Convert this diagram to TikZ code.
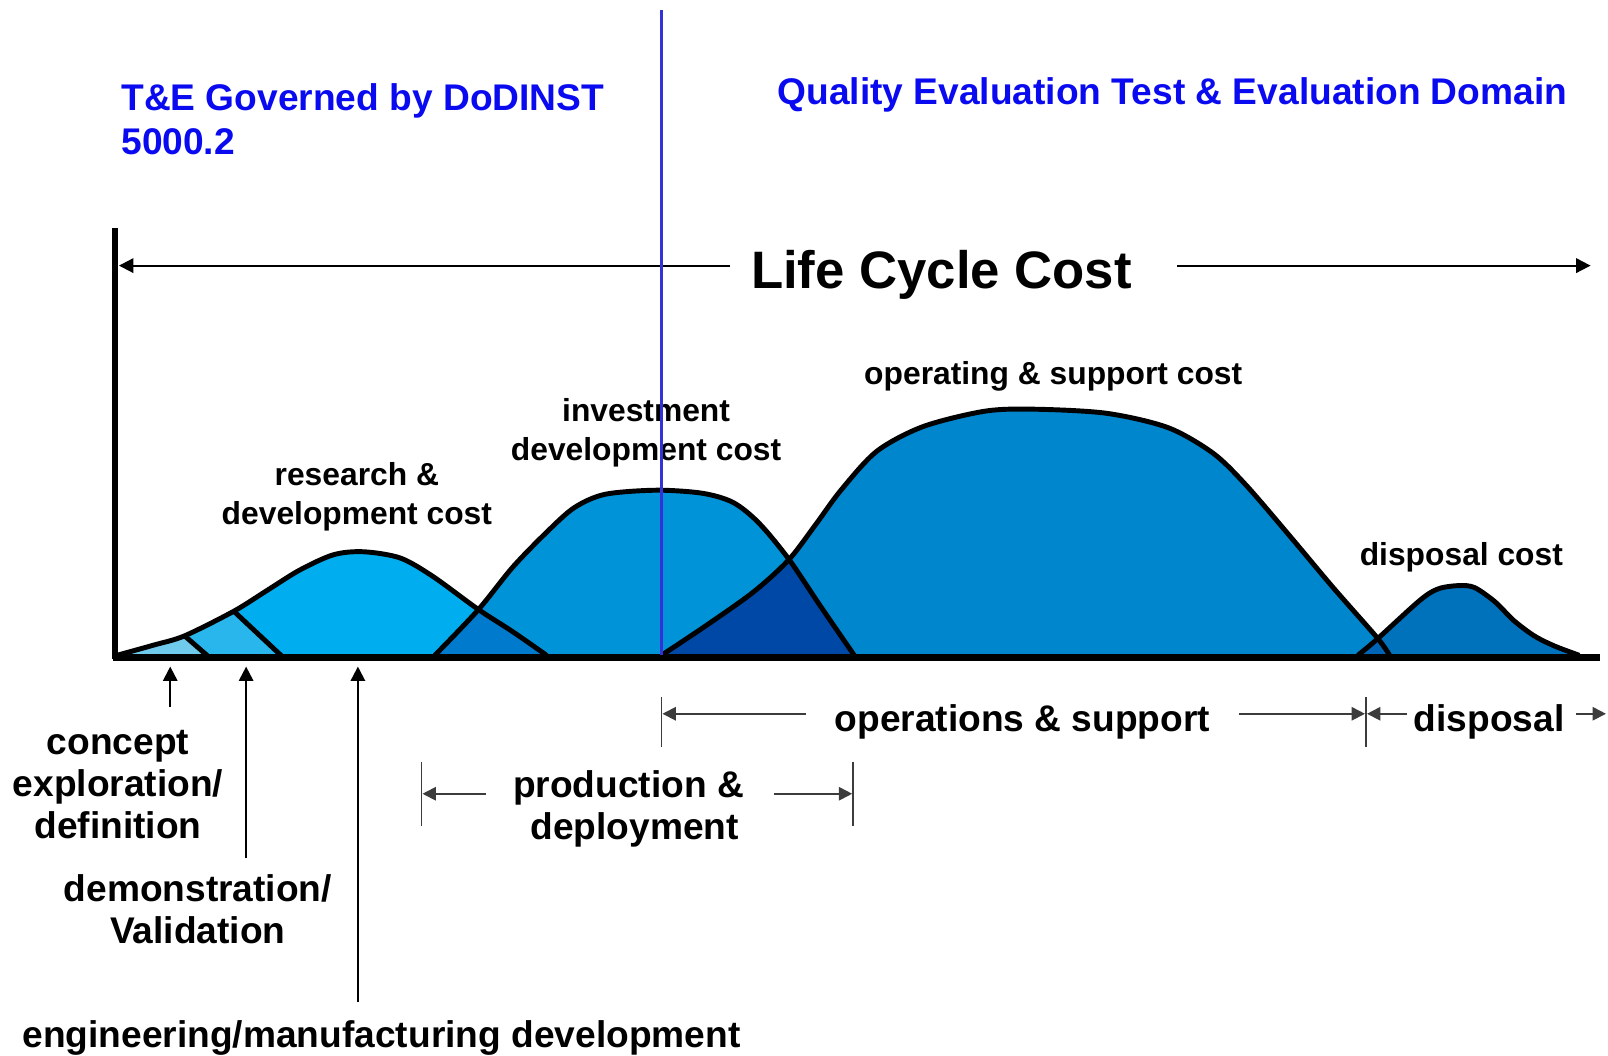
\documentclass[tikz,border=0pt]{standalone}
\usepackage{fontspec}
\setmainfont{Liberation Sans}
\usetikzlibrary{arrows.meta}
\definecolor{conceptc}{RGB}{112,202,236}
\definecolor{democ}{RGB}{40,182,236}
\definecolor{rdc}{RGB}{0,174,239}
\definecolor{rdinvc}{RGB}{0,122,204}
\definecolor{invc}{RGB}{0,147,215}
\definecolor{invosc}{RGB}{0,72,166}
\definecolor{osc}{RGB}{0,134,204}
\definecolor{dispc}{RGB}{0,114,188}
\definecolor{osdispc}{RGB}{0,100,180}
\definecolor{titleblue}{RGB}{10,10,240}
\definecolor{lineblue}{RGB}{50,50,215}
\definecolor{tickgray}{RGB}{60,60,60}
\def\rdpts{(114,639) (150,629) (180,620) (228,596) (260,576) (292,556) (325,541) (354,538) (390,544) (422,562) (466,594) (500,616) (533,639)}
\def\invpts{(424,639) (466,595) (500,553) (533,519) (560,495) (590,482) (640,478) (685,481) (715,490) (740,510) (769,545) (800,591) (833,639)}
\def\ospts{(645,639) (690,609) (735,577) (769,546) (795,512) (820,478) (855,440) (900,416) (960,401) (1008,399) (1079,403) (1139,417) (1183,442) (1215,473) (1258,523) (1300,573) (1343,622) (1355,639)}
\def\disppts{(1324,639) (1342,624) (1385,585) (1403,574) (1423,571) (1438,573) (1458,587) (1476,605) (1496,620) (1516,630) (1540,639)}
\begin{document}
\begin{tikzpicture}[x=0.5pt,y=-0.5pt,
  lbl/.style={font=\fontsize{15.5}{18}\selectfont\bfseries, anchor=base, inner sep=0pt},
  big/.style={font=\fontsize{18.1}{21}\selectfont\bfseries, anchor=base, inner sep=0pt},
  ttl/.style={big, text=titleblue, anchor=base west},
  arr/.style={-{Triangle[length=7pt,width=7pt]}, line width=1pt},
  garr/.style={-{Triangle[length=6.5pt,width=6.5pt]}, line width=0.9pt, draw=tickgray},
  tickbar/.style={draw=tickgray, line width=0.9pt},
  curve/.style={line width=2.4pt, line join=round},
  smth/.style={smooth, tension=0.5}]
\useasboundingbox (0,0) rectangle (1568,1029);
% fills
\fill[rdc] plot[smth] coordinates {\rdpts} -- cycle;
\begin{scope}
  \clip plot[smth] coordinates {\rdpts} -- cycle;
  \fill[conceptc] (100,645) -- (203,645) -- (180,620) -- (157,600) -- (100,600) -- cycle;
  \fill[democ] (203,645) -- (275,645) -- (228,596) -- (210,578) -- (157,600) -- (180,620) -- cycle;
\end{scope}
\fill[invc] plot[smth] coordinates {\invpts} -- cycle;
\fill[osc] plot[smth] coordinates {\ospts} -- cycle;
\fill[dispc] plot[smth] coordinates {\disppts} -- cycle;
\begin{scope}
  \clip plot[smth] coordinates {\rdpts} -- cycle;
  \fill[rdinvc] plot[smth] coordinates {\invpts} -- cycle;
\end{scope}
\begin{scope}
  \clip plot[smth] coordinates {\invpts} -- cycle;
  \fill[invosc] plot[smth] coordinates {\ospts} -- cycle;
\end{scope}
\begin{scope}
  \clip plot[smth] coordinates {\ospts} -- cycle;
  \fill[osdispc] plot[smth] coordinates {\disppts} -- cycle;
\end{scope}
% outlines
\draw[curve] plot[smth] coordinates {\rdpts};
\draw[curve] (180,620) -- (203,640);
\draw[curve] (228,596) -- (275,640);
\draw[curve] plot[smth] coordinates {\invpts};
\draw[curve] plot[smth] coordinates {\ospts};
\draw[curve] plot[smth] coordinates {\disppts};
% axes
\coordinate (axtop) at (112,222);
\coordinate (axorig) at (112,643);
\coordinate (axend) at (1560,641);
\draw[line width=2.6pt] (axtop) -- (axorig);
\draw[line width=3.6pt] (110,641) -- (axend);
% titles
\node[ttl] (te1) at (118,108) {T\&E Governed by DoDINST};
\node[ttl] (te2) at (118,151) {5000.2};
\node[ttl] (qe) at (758,102) {Quality Evaluation Test \& Evaluation Domain};
% life cycle cost
\node[font=\fontsize{25.7}{30}\selectfont\bfseries, anchor=base, inner sep=0pt] (lcc) at (918,281) {Life Cycle Cost};
\coordinate (lccLs) at (712,259);
\coordinate (lccLe) at (116,259);
\coordinate (lccRs) at (1148,259);
\coordinate (lccRe) at (1551,259);
\draw[arr] (lccLs) -- (lccLe);
\draw[arr] (lccRs) -- (lccRe);
% cost labels
\node[lbl] (rd1) at (348,473) {research \&};
\node[lbl] (rd2) at (348,511) {development cost};
\node[lbl] (iv1) at (630,411) {investment};
\node[lbl] (iv2) at (630,449) {development cost};
\node[lbl] (os1) at (1027,375) {operating \& support cost};
\node[lbl] (dc1) at (1425,551) {disposal cost};
% phase labels
\node[big] (ce1) at (115,736) {concept};
\node[big] (ce2) at (115,777) {exploration/};
\node[big] (ce3) at (115,818) {definition};
\node[big] (dv1) at (193,879) {demonstration/};
\node[big] (dv2) at (193,920) {Validation};
\node[big] (emd) at (372,1021) {engineering/manufacturing development};
\coordinate (a1s) at (166,689); \coordinate (a1e) at (166,650);
\coordinate (a2s) at (240,837); \coordinate (a2e) at (240,650);
\coordinate (a3s) at (349,977); \coordinate (a3e) at (349,650);
\draw[arr] (a1s) -- (a1e);
\draw[arr] (a2s) -- (a2e);
\draw[arr] (a3s) -- (a3e);
% production & deployment
\node[big] (pd1) at (613,778) {production \&};
\node[big] (pd2) at (619,819) {deployment};
\coordinate (pdLt) at (411,743); \coordinate (pdLb) at (411,805);
\coordinate (pdRt) at (832,743); \coordinate (pdRb) at (832,805);
\draw[tickbar] (pdLt) -- (pdLb);
\draw[tickbar] (pdRt) -- (pdRb);
\coordinate (pdLs) at (474,774); \coordinate (pdLe) at (412,774);
\coordinate (pdRs) at (755,774); \coordinate (pdRe) at (831,774);
\draw[garr] (pdLs) -- (pdLe);
\draw[garr] (pdRs) -- (pdRe);
% operations & support
\node[big] (ops) at (997,713) {operations \& support};
\coordinate (osLt) at (645,680); \coordinate (osLb) at (645,728);
\coordinate (osRt) at (1332,680); \coordinate (osRb) at (1332,728);
\draw[tickbar] (osLt) -- (osLb);
\draw[tickbar] (osRt) -- (osRb);
\coordinate (osLs) at (786,696); \coordinate (osLe) at (646,696);
\coordinate (osRs) at (1208,696); \coordinate (osRe) at (1331,696);
\draw[garr] (osLs) -- (osLe);
\draw[garr] (osRs) -- (osRe);
% disposal
\node[big] (dsp) at (1452,713) {disposal};
\coordinate (dLs) at (1372,696); \coordinate (dLe) at (1333,696);
\coordinate (dRs) at (1537,696); \coordinate (dRe) at (1566,696);
\draw[garr] (dLs) -- (dLe);
\draw[garr] (dRs) -- (dRe);
% blue divider
\coordinate (blt) at (645,10);
\coordinate (blb) at (645,639);
\draw[lineblue, line width=1.1pt] (blt) -- (blb);
\end{tikzpicture}
\end{document}
